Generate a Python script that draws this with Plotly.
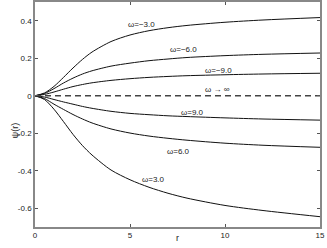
import plotly.graph_objects as go

r_vals = [0, 0.5, 1, 1.5, 2, 2.5, 3, 4, 5, 6, 7, 8, 10, 12, 15]
psi_m3 = [0, 0.015, 0.05, 0.098, 0.148, 0.194, 0.233, 0.289, 0.324, 0.347, 0.363, 0.375, 0.392, 0.404, 0.417]
psi_m6 = [0, 0.012, 0.038, 0.068, 0.094, 0.116, 0.133, 0.158, 0.174, 0.187, 0.196, 0.204, 0.214, 0.221, 0.228]
psi_m9 = [0, 0.007, 0.02, 0.035, 0.049, 0.06, 0.069, 0.082, 0.091, 0.098, 0.103, 0.107, 0.112, 0.116, 0.12]
psi_p9 = [0, -0.007, -0.02, -0.033, -0.045, -0.057, -0.067, -0.083, -0.094, -0.101, -0.107, -0.111, -0.118, -0.124, -0.13]
psi_p6 = [0, -0.015, -0.045, -0.073, -0.1, -0.124, -0.145, -0.177, -0.199, -0.215, -0.227, -0.237, -0.253, -0.264, -0.275]
psi_p3 = [0, -0.02, -0.072, -0.138, -0.206, -0.266, -0.316, -0.396, -0.448, -0.488, -0.52, -0.546, -0.585, -0.612, -0.645]
psi_inf = [0] * len(r_vals)

labels = ["ω=−3.0", "ω=−6.0", "ω=−9.0", "ω → ∞", "ω=9.0", "ω=6.0", "ω=3.0"]
label_r = [5.58, 7.79, 9.66, 9.58, 8.29, 7.53, 6.26]
label_psi = [0.379, 0.247, 0.137, 0.032, -0.089, -0.295, -0.447]

y_tickvals = [0.4, 0.2, 0, -0.2, -0.4, -0.6]
y_ticktext = ["0.4", "0.2", "0", "-0.2", "-0.4", "-0.6"]
x_tickvals = [0, 5, 10, 15]
x_ticktext = ["0", "5", "10", "15"]

fig = go.Figure()
for ys in [psi_m3, psi_m6, psi_m9, psi_p9, psi_p6, psi_p3]:
    fig.add_trace(go.Scatter(x=r_vals, y=ys, mode="lines",
                             line=dict(color="#111", width=1, shape="spline", smoothing=0.8),
                             showlegend=False))
fig.add_trace(go.Scatter(x=r_vals, y=psi_inf, mode="lines",
                         line=dict(color="#444", width=1.5, dash="6px,4px"), showlegend=False))

for t, xr, yp in zip(labels, label_r, label_psi):
    fig.add_annotation(x=xr, y=yp, text=t, showarrow=False,
                       font=dict(size=8, color="#222", family="Liberation Sans"))

fig.add_annotation(x=0.5, y=-0.05, xref="paper", yref="paper", text="r", showarrow=False,
                   font=dict(size=9, color="#222", family="Liberation Sans"), yanchor="middle")
fig.add_annotation(x=-0.095, y=0.43, xref="paper", yref="paper", text="ψ(r)", showarrow=False,
                   textangle=-90, font=dict(size=9, color="#222", family="Liberation Sans"))

axis_common = dict(showline=True, linecolor="#888", linewidth=1.5, mirror="ticks", ticks="inside",
                   ticklen=3, tickcolor="#555", showgrid=False, zeroline=False, automargin=False,
                   tickfont=dict(size=8, family="Liberation Sans", color="#222"))
fig.update_xaxes(range=[0, 15], tickvals=x_tickvals, ticktext=x_ticktext, **axis_common)
fig.update_yaxes(range=[-0.7, 0.5], tickvals=y_tickvals, ticktext=y_ticktext, **axis_common)

fig.update_layout(width=327, height=248, margin=dict(l=35, r=7, t=2, b=21),
                  plot_bgcolor="white", paper_bgcolor="white")
fig.write_html("out.html", config={"displayModeBar": False},
               post_script="document.body.style.margin='0';document.body.style.overflow='hidden';")
